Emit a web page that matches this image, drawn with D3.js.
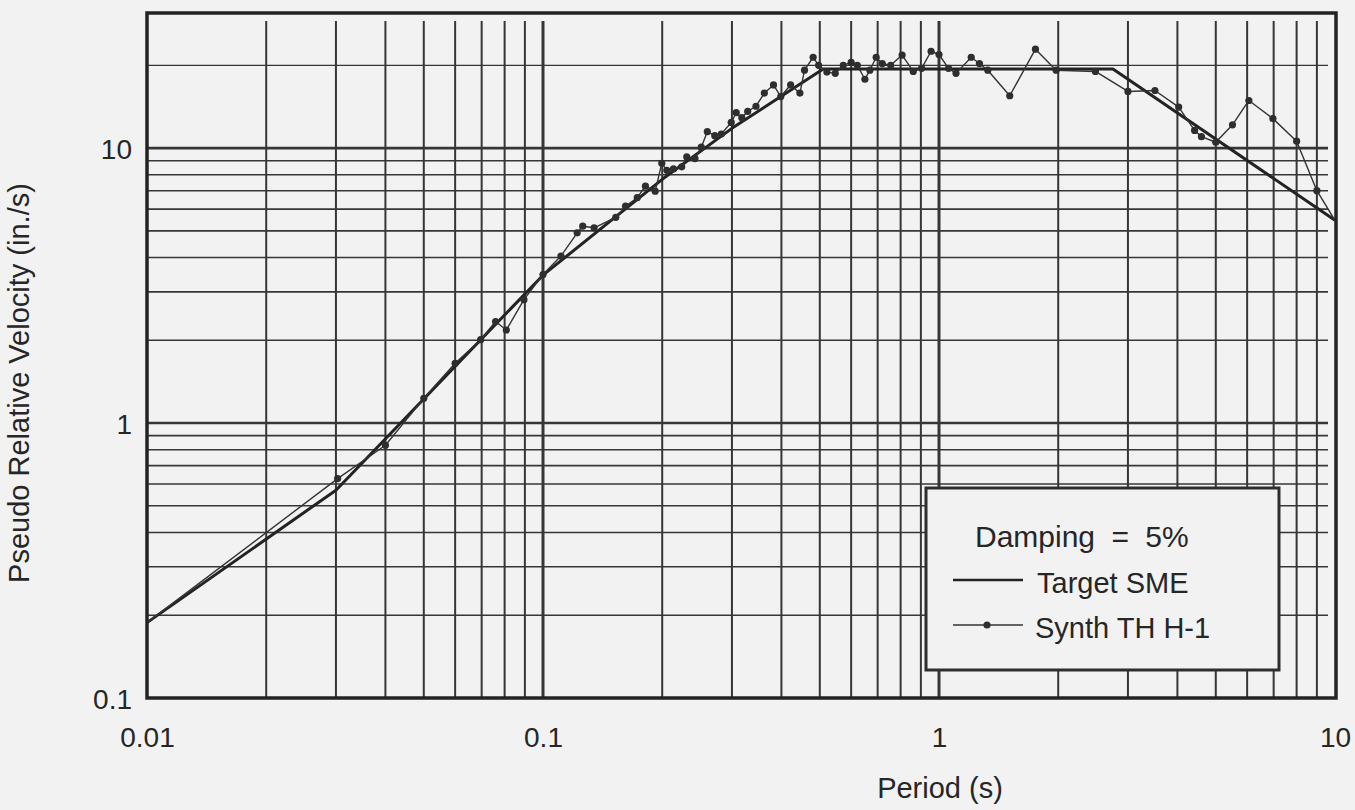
<!DOCTYPE html>
<html>
<head>
<meta charset="utf-8">
<script src="https://cdn.jsdelivr.net/npm/d3@7"></script>
<style>
  html, body { margin: 0; padding: 0; background: #f2f2f2; }
  svg { display: block; }
  text { font-family: "Liberation Sans", Arial, Helvetica, sans-serif; fill: #262626; }
</style>
</head>
<body>
<svg id="chart" width="1355" height="810"></svg>
<script>
// Axis tick labels
const periodTicks = [0.01, 0.1, 1, 10];
const velocityTicks = [0.1, 1, 10];

// Target SME spectrum (period in s, pseudo velocity in in./s)
const targetPeriod   = [0.01, 0.03, 0.1, 0.2, 0.3, 0.51, 2.75, 10];
const targetVelocity = [0.188, 0.57, 3.45, 7.7, 11.8, 19.4, 19.4, 5.46];

// Synthetic time history H-1 response spectrum
const synthPeriod = [
  0.01, 0.0303, 0.040, 0.050, 0.060, 0.0696, 0.0759, 0.0808, 0.0895, 0.100,
  0.111, 0.122, 0.126, 0.1346, 0.1527, 0.1616, 0.173, 0.1814, 0.192, 0.1995,
  0.2055, 0.2135, 0.224, 0.2307, 0.242, 0.251, 0.260, 0.2715, 0.282, 0.2988,
  0.3076, 0.3177, 0.3288, 0.345, 0.3622, 0.382, 0.3985, 0.422, 0.4454, 0.4575,
  0.481, 0.4966, 0.521, 0.547, 0.573, 0.600, 0.622, 0.650, 0.669, 0.694,
  0.719, 0.755, 0.807, 0.861, 0.904, 0.955, 1.0, 1.057, 1.104, 1.206,
  1.265, 1.328, 1.509, 1.752, 1.976, 2.483, 3.0, 3.51, 4.03, 4.42,
  4.6, 5.0, 5.51, 6.06, 6.97, 8.0, 9.0, 10.0
];
const synthVelocity = [
  0.188, 0.628, 0.83, 1.23, 1.65, 2.01, 2.34, 2.18, 2.81, 3.47,
  4.05, 4.92, 5.20, 5.13, 5.6, 6.15, 6.6, 7.27, 6.97, 8.8,
  8.3, 8.4, 8.55, 9.29, 9.16, 10.08, 11.47, 11.1, 11.25, 12.4,
  13.45, 12.9, 13.6, 14.2, 15.85, 16.97, 15.4, 16.97, 15.85, 19.2,
  21.4, 20.0, 18.9, 18.7, 20.0, 20.5, 20.0, 17.8, 19.2, 21.4,
  20.3, 20.0, 21.8, 19.0, 19.5, 22.5, 21.9, 19.5, 18.7, 21.4,
  20.3, 19.2, 15.5, 22.9, 19.2, 19.0, 16.07, 16.2, 14.1, 11.6,
  11.0, 10.5, 12.15, 14.9, 12.8, 10.6, 7.0, 5.46
];

const legendTitle = "Damping = 5%";
const seriesNames = ["Target SME", "Synth TH H-1"];
const axisTitles = { x: "Period (s)", y: "Pseudo Relative Velocity (in./s)" };

const ink = "#262626";
const svg = d3.select("#chart");
const plot = { left: 147, right: 1335, top: 13, bottom: 698 };

const x = d3.scaleLog().domain([0.01, 10]).range([plot.left, plot.right]);
const y = d3.scaleLog().domain([0.1, 31]).range([plot.bottom, plot.top]);

const isDecade = v => Math.abs(Math.log10(v) - Math.round(Math.log10(v))) < 1e-9;

// Grid
const grid = svg.append("g").attr("stroke", "#363636");
const xGrid = x.ticks().filter(v => v > 0.0100001 && v < 9.9999);
grid.selectAll("line.vx").data(xGrid).join("line")
  .attr("class", "vx")
  .attr("x1", d => x(d)).attr("x2", d => x(d))
  .attr("y1", plot.top + 8).attr("y2", plot.bottom)
  .attr("stroke-width", d => isDecade(d) ? 3 : 2);

const yGrid = y.ticks().filter(v => v > 0.100001 && v <= 20.0001);
grid.selectAll("line.hy").data(yGrid).join("line")
  .attr("class", "hy")
  .attr("x1", plot.left).attr("x2", plot.right - 7)
  .attr("y1", d => y(d)).attr("y2", d => y(d))
  .attr("stroke-width", d => isDecade(d) ? 2.6 : (d > 10 ? 1.2 : 1.6));

// Axes (labels only)
const xAxis = svg.append("g")
  .attr("transform", `translate(0,${plot.bottom})`)
  .call(d3.axisBottom(x).tickValues(periodTicks).tickSize(0).tickFormat(d3.format("~g")));
xAxis.select(".domain").remove();
xAxis.selectAll("text")
  .attr("y", 49).attr("dy", 0)
  .style("font-size", "28px")
  .style("font-family", "'Liberation Sans', Arial, Helvetica, sans-serif")
  .attr("fill", ink);

const yAxis = svg.append("g")
  .attr("transform", `translate(${plot.left},0)`)
  .call(d3.axisLeft(y).tickValues(velocityTicks).tickSize(0).tickFormat(d3.format("~g")));
yAxis.select(".domain").remove();
yAxis.selectAll("text")
  .attr("x", -15).attr("dy", "0.36em")
  .style("font-size", "28px")
  .style("font-family", "'Liberation Sans', Arial, Helvetica, sans-serif")
  .attr("fill", ink);

// Axis titles
svg.append("text")
  .attr("x", 940).attr("y", 798)
  .attr("text-anchor", "middle")
  .style("font-size", "29px")
  .text(axisTitles.x);

svg.append("text")
  .attr("transform", "translate(29,383) rotate(-90)")
  .attr("text-anchor", "middle")
  .style("font-size", "29px")
  .text(axisTitles.y);

// Curves
const line = d3.line().x(d => x(d[0])).y(d => y(d[1]));
const targetData = targetPeriod.map((p, i) => [p, targetVelocity[i]]);
const synthData = synthPeriod.map((p, i) => [p, synthVelocity[i]]);

svg.append("path")
  .datum(targetData)
  .attr("d", line)
  .attr("fill", "none")
  .attr("stroke", "#232323")
  .attr("stroke-width", 3)
  .attr("stroke-linejoin", "round");

svg.append("path")
  .datum(synthData)
  .attr("d", line)
  .attr("fill", "none")
  .attr("stroke", "#333")
  .attr("stroke-width", 1.4)
  .attr("stroke-linejoin", "round");

svg.append("g").selectAll("circle").data(synthData.slice(1, -1)).join("circle")
  .attr("cx", d => x(d[0])).attr("cy", d => y(d[1]))
  .attr("r", 3.6)
  .attr("fill", "#2e2e2e");

// Frame
svg.append("rect")
  .attr("x", plot.left).attr("y", plot.top)
  .attr("width", plot.right + 1 - plot.left).attr("height", plot.bottom - plot.top)
  .attr("fill", "none")
  .attr("stroke", "#232323")
  .attr("stroke-width", 3.5);

// Legend
const lg = svg.append("g");
lg.append("rect")
  .attr("x", 926).attr("y", 488).attr("width", 353).attr("height", 182)
  .attr("fill", "#f2f2f2")
  .attr("stroke", "#2e2e2e").attr("stroke-width", 3);
lg.append("text")
  .attr("x", 975).attr("y", 547)
  .style("font-size", "30px")
  .style("word-spacing", "8px")
  .text(legendTitle);
lg.append("line")
  .attr("x1", 953).attr("x2", 1023).attr("y1", 580).attr("y2", 580)
  .attr("stroke", "#232323").attr("stroke-width", 2.4);
lg.append("text")
  .attr("x", 1037).attr("y", 593)
  .style("font-size", "29px")
  .text(seriesNames[0]);
lg.append("line")
  .attr("x1", 953).attr("x2", 1023).attr("y1", 625).attr("y2", 625)
  .attr("stroke", "#333").attr("stroke-width", 1.4);
lg.append("circle")
  .attr("cx", 987).attr("cy", 625).attr("r", 3.6).attr("fill", "#2e2e2e");
lg.append("text")
  .attr("x", 1035).attr("y", 638)
  .style("font-size", "29px")
  .text(seriesNames[1]);
</script>
</body>
</html>
